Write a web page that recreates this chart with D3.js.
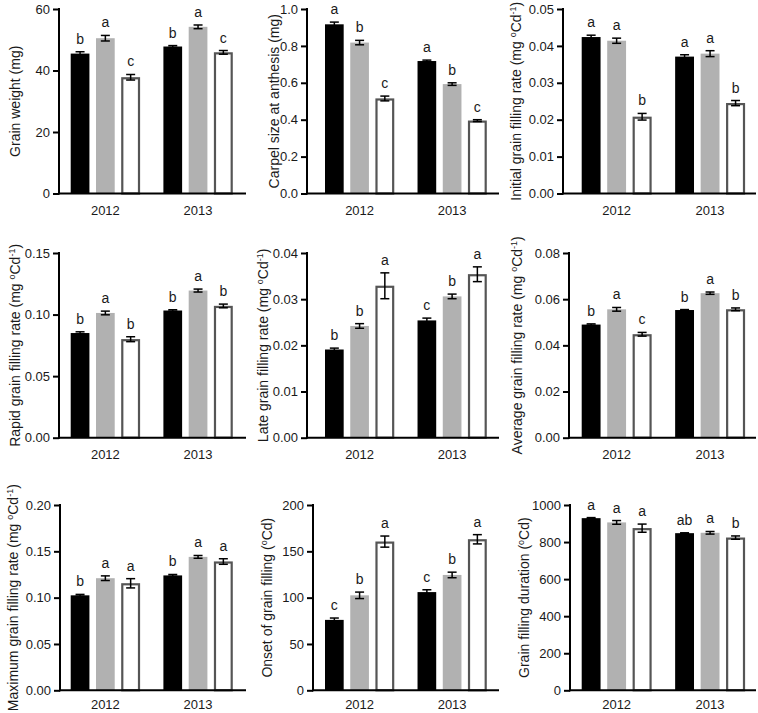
<!DOCTYPE html>
<html><head><meta charset="utf-8">
<script src="https://cdn.jsdelivr.net/npm/d3@7"></script>
<style>
body{margin:0;background:#fff}
svg{display:block}
text{font-family:"Liberation Sans",Arial,Helvetica,sans-serif;fill:#1a1a1a}
</style>
</head><body>
<svg id="c" width="758" height="713"></svg>
<script>
// ---------- DATA ----------
const years = ["2012", "2013"];
const treatments = ["T1", "T2", "T3"];

const grainWeight      = [[45.5, 50.5, 37.8], [47.8, 54.2, 45.9]];
const grainWeightErr   = [[0.6, 0.9, 0.9], [0.3, 0.6, 0.6]];
const grainWeightLet   = [["b", "a", "c"], ["b", "a", "c"]];
const grainWeightTicks = [0, 20, 40, 60];

const carpelSize      = [[0.917, 0.818, 0.515], [0.718, 0.593, 0.395]];
const carpelSizeErr   = [[0.012, 0.012, 0.013], [0.005, 0.007, 0.005]];
const carpelSizeLet   = [["a", "b", "c"], ["a", "b", "c"]];
const carpelSizeTicks = [0, 0.2, 0.4, 0.6, 0.8, 1.0];

const initialRate      = [[0.0424, 0.0414, 0.0208], [0.0371, 0.0379, 0.0245]];
const initialRateErr   = [[0.0005, 0.0007, 0.0009], [0.0005, 0.0008, 0.0007]];
const initialRateLet   = [["a", "a", "b"], ["a", "a", "b"]];
const initialRateTicks = [0, 0.01, 0.02, 0.03, 0.04, 0.05];

const rapidRate      = [[0.0850, 0.1013, 0.0800], [0.1033, 0.1195, 0.1070]];
const rapidRateErr   = [[0.0010, 0.0015, 0.0020], [0.0006, 0.0012, 0.0015]];
const rapidRateLet   = [["b", "a", "b"], ["b", "a", "b"]];
const rapidRateTicks = [0, 0.05, 0.10, 0.15];

const lateRate      = [[0.0191, 0.0242, 0.0329], [0.0254, 0.0306, 0.0354]];
const lateRateErr   = [[0.0003, 0.0005, 0.0028], [0.0005, 0.0005, 0.0016]];
const lateRateLet   = [["b", "b", "a"], ["c", "b", "a"]];
const lateRateTicks = [0, 0.01, 0.02, 0.03, 0.04];

const averageRate      = [[0.0490, 0.0556, 0.0448], [0.0553, 0.0626, 0.0556]];
const averageRateErr   = [[0.0003, 0.0008, 0.0008], [0.0002, 0.0005, 0.0006]];
const averageRateLet   = [["b", "a", "c"], ["b", "a", "b"]];
const averageRateTicks = [0, 0.02, 0.04, 0.06, 0.08];

const maxRate      = [[0.1025, 0.1210, 0.1155], [0.1240, 0.1440, 0.1390]];
const maxRateErr   = [[0.0010, 0.0025, 0.0050], [0.0010, 0.0015, 0.0030]];
const maxRateLet   = [["b", "a", "a"], ["b", "a", "a"]];
const maxRateTicks = [0, 0.05, 0.10, 0.15, 0.20];

const onset      = [[76, 102.5, 160.5], [106, 124.5, 163]];
const onsetErr   = [[2, 3.5, 6], [2.5, 3, 5]];
const onsetLet   = [["c", "b", "a"], ["c", "b", "a"]];
const onsetTicks = [0, 50, 100, 150, 200];

const duration      = [[929, 906, 875], [848, 850, 824]];
const durationErr   = [[3, 10, 22], [2, 7, 9]];
const durationLet   = [["a", "a", "a"], ["ab", "a", "b"]];
const durationTicks = [0, 200, 400, 600, 800, 1000];

// y-axis titles: strings are normal text, one-element arrays are superscripts
const rateUnit = ["(mg ", ["o"], "Cd", ["-1"], ")"];
const titles = [
  ["Grain weight (mg)"],
  ["Carpel size at anthesis (mg)"],
  ["Initial grain filling rate "].concat(rateUnit),
  ["Rapid grain filling rate "].concat(rateUnit),
  ["Late grain filling rate "].concat(rateUnit),
  ["Average grain filling rate "].concat(rateUnit),
  ["Maximum grain filling rate "].concat(rateUnit),
  ["Onset of grain filling (", ["o"], "Cd)"],
  ["Grain filling duration (", ["o"], "Cd)"]
];

const panels = [
  {v: grainWeight, e: grainWeightErr, l: grainWeightLet, t: grainWeightTicks, f: "d"},
  {v: carpelSize,  e: carpelSizeErr,  l: carpelSizeLet,  t: carpelSizeTicks,  f: ".1f"},
  {v: initialRate, e: initialRateErr, l: initialRateLet, t: initialRateTicks, f: ".2f"},
  {v: rapidRate,   e: rapidRateErr,   l: rapidRateLet,   t: rapidRateTicks,   f: ".2f"},
  {v: lateRate,    e: lateRateErr,    l: lateRateLet,    t: lateRateTicks,    f: ".2f"},
  {v: averageRate, e: averageRateErr, l: averageRateLet, t: averageRateTicks, f: ".2f"},
  {v: maxRate,     e: maxRateErr,     l: maxRateLet,     t: maxRateTicks,     f: ".2f"},
  {v: onset,       e: onsetErr,       l: onsetLet,       t: onsetTicks,       f: "d"},
  {v: duration,    e: durationErr,    l: durationLet,    t: durationTicks,    f: "d"}
];

// ---------- LAYOUT ----------
const colGroups = [[70.7, 232.7], [325, 486.7], [581.7, 745]];
const colXEnd = [246, 499, 756];
const rowY = [[9, 193.5], [253, 437.7], [505, 690.3]];
const rowPad = [12.5, 12.5, 9.5];
const axisXs = [59, 307, 563, 59, 307, 569, 60, 313, 570];
const labelXs = [15, 274, 516, 15, 263, 517, 13, 267, 524];

const colors = ["#000000", "#b1b1b1", "#ffffff"];
const strokeC = ["none", "none", "#555555"];

const svg = d3.select("#c");

panels.forEach((p, i) => {
  const col = i % 3, row = Math.floor(i / 3);
  const ax = axisXs[i], [top, zero] = rowY[row];
  const g = svg.append("g");
  const y = d3.scaleLinear().domain([0, d3.max(p.t)]).range([zero, top]);
  const x0 = d3.scaleBand().domain(years).range(colGroups[col]).paddingInner(0.2524).paddingOuter(0);
  const x1 = d3.scaleBand().domain(treatments).range([0, x0.bandwidth()]).paddingInner(0.26).paddingOuter(0);
  const bw = x1.bandwidth();

  years.forEach((yr, yi) => {
    treatments.forEach((t, ti) => {
      const v = p.v[yi][ti], e = p.e[yi][ti];
      const bx = x0(yr) + x1(t);
      const cx = bx + bw / 2;
      if (ti === 2) {
        g.append("rect").attr("x", bx + 1).attr("y", y(v) + 1)
          .attr("width", bw - 2).attr("height", y(0) - y(v) - 1)
          .attr("fill", colors[ti]).attr("stroke", strokeC[ti]).attr("stroke-width", 2.2);
      } else {
        g.append("rect").attr("x", bx).attr("y", y(v))
          .attr("width", bw).attr("height", y(0) - y(v))
          .attr("fill", colors[ti]);
      }
      // error bar
      g.append("line").attr("x1", cx).attr("x2", cx).attr("y1", y(v - e)).attr("y2", y(v + e))
        .attr("stroke", "#000").attr("stroke-width", 1.5);
      [v - e, v + e].forEach(val => {
        g.append("line").attr("x1", cx - 4.5).attr("x2", cx + 4.5).attr("y1", y(val)).attr("y2", y(val))
          .attr("stroke", "#000").attr("stroke-width", 1.5);
      });
      // letter
      g.append("text").attr("x", cx).attr("y", y(v + e) - 8)
        .attr("text-anchor", "middle").attr("font-size", 14).text(p.l[yi][ti]);
    });
  });

  // y axis
  const yAxis = d3.axisLeft(y).tickValues(p.t).tickFormat(d3.format(p.f)).tickSize(6).tickPadding(3);
  const yg = g.append("g").attr("transform", `translate(${ax},0)`).call(yAxis);
  yg.select(".domain").remove();
  yg.selectAll(".tick line").attr("stroke", "#000").attr("stroke-width", 2);
  yg.selectAll(".tick text").attr("font-size", 13).style("font-family", '"Liberation Sans",Arial,sans-serif').attr("fill", "#1a1a1a");
  g.append("line").attr("x1", ax).attr("x2", ax).attr("y1", top - 1).attr("y2", zero + 1)
    .attr("stroke", "#000").attr("stroke-width", 2);

  // x axis
  const xAxis = d3.axisBottom(x0).tickSize(0).tickPadding(rowPad[row]);
  const xg = g.append("g").attr("transform", `translate(0,${zero})`).call(xAxis);
  xg.select(".domain").remove();
  xg.selectAll(".tick text").attr("font-size", 13).style("font-family", '"Liberation Sans",Arial,sans-serif').attr("fill", "#1a1a1a");
  g.append("line").attr("x1", ax - 1).attr("x2", colXEnd[col]).attr("y1", zero).attr("y2", zero)
    .attr("stroke", "#000").attr("stroke-width", 2);

  // y title
  const tt = g.append("text")
    .attr("transform", `translate(${labelXs[i]},${(top + zero) / 2}) rotate(-90)`)
    .attr("text-anchor", "middle").attr("font-size", 14).attr("y", 5);
  let shifted = false;
  titles[i].forEach(part => {
    if (Array.isArray(part)) {
      tt.append("tspan").attr("font-size", 9).attr("dy", shifted ? 0 : -5).text(part[0]);
      shifted = true;
    } else {
      tt.append("tspan").attr("dy", shifted ? 5 : 0).text(part);
      shifted = false;
    }
  });
});
</script>
</body></html>
